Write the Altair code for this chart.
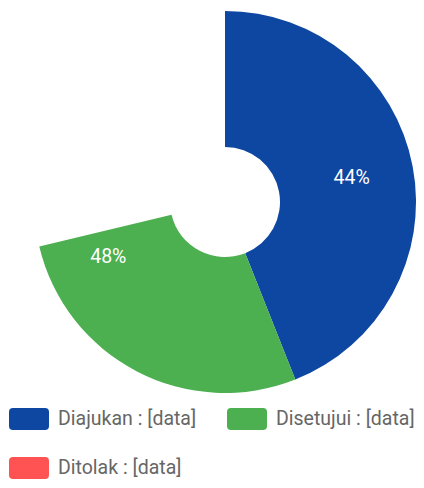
import altair as alt
import pandas as pd

categories = ["Diajukan", "Disetujui", "Ditolak"]
shares = [44, 48, 8]            # percentages shown in the labels
drawn = [44, 27.25, 0]          # arc extent visible in the picture (percent of circle)
labels = ["44%", "48%", ""]
colors = ["#0D47A1", "#4CAF50", "#FF5252"]
order = [0, 1, 2]
legend_order = ["Diajukan", "Ditolak", "Disetujui"]

df = pd.DataFrame({
    "category": categories,
    "share": shares,
    "drawn": drawn,
    "label": labels,
    "order": order,
})

rr = ("M -0.8,-0.55 L 0.8,-0.55 Q 1,-0.55 1,-0.35 L 1,0.35 Q 1,0.55 0.8,0.55 "
      "L -0.8,0.55 Q -1,0.55 -1,0.35 L -1,-0.35 Q -1,-0.55 -0.8,-0.55 Z")

color = alt.Color(
    "category:N",
    scale=alt.Scale(domain=categories, range=colors),
    legend=alt.Legend(
        title=None,
        orient="none",
        legendX=1,
        legendY=391,
        columns=2,
        values=legend_order,
        symbolType=rr,
        symbolSize=1600,
        symbolStrokeWidth=0,
        symbolOpacity=1,
        labelFont="Roboto",
        labelFontSize=19.5,
        labelColor="#666666",
        labelOffset=9,
        labelLimit=300,
        columnPadding=30,
        rowPadding=18,
        padding=0,
        labelExpr="datum.label + ' : [data]'",
    ),
)

base = alt.Chart(df).encode(
    x=alt.value(217),
    y=alt.value(194),
    order=alt.Order("order:Q"),
)

arcs = base.mark_arc(radius=191, radius2=55, stroke=None).encode(
    theta=alt.Theta("drawn:Q", stack=True, scale=alt.Scale(domain=[0, 100])),
    color=color,
)

text = base.mark_text(radius=129, font="Roboto", fontSize=19.5, color="white").encode(
    theta=alt.Theta("share:Q", stack=True, scale=alt.Scale(domain=[0, 100])),
    text="label:N",
)

chart = alt.layer(arcs, text).properties(
    width=408, height=472, padding=0,
    autosize=alt.AutoSizeParams(type="none"),
).configure_view(stroke=None)

chart.save("out.html", embed_options={"renderer": "svg", "actions": False})
